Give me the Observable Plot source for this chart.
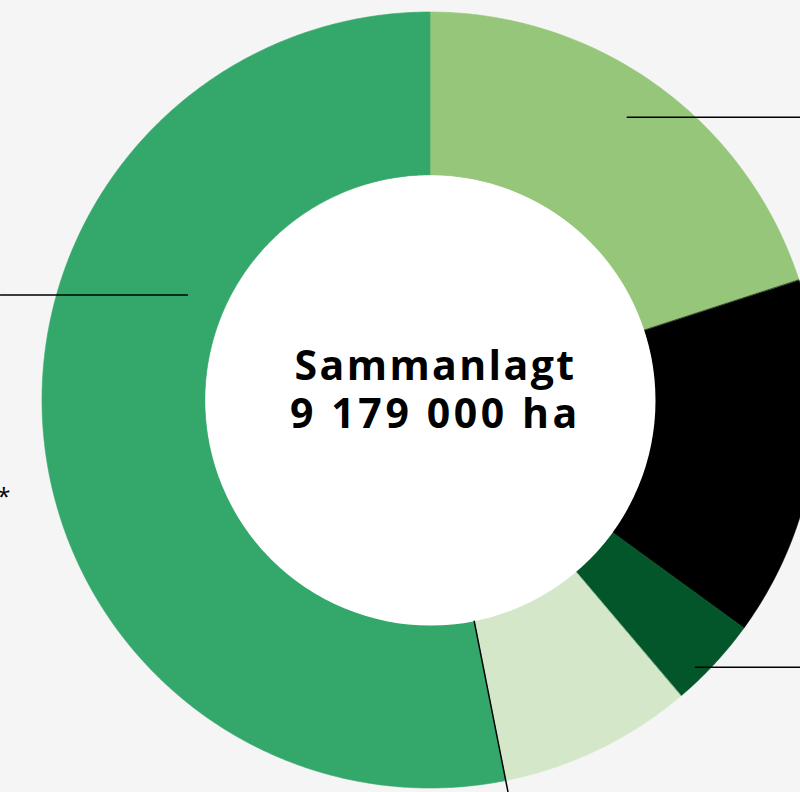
<!DOCTYPE html>
<html><head><meta charset="utf-8">
<script src="https://cdn.jsdelivr.net/npm/d3@7"></script>
<script src="https://cdn.jsdelivr.net/npm/@observablehq/plot@0.6"></script>
<style>
html,body{margin:0;padding:0;background:#f5f5f5;}
#chart svg{display:block;}
#chart .center-label tspan:nth-child(1){letter-spacing:2.4px;}
#chart .center-label tspan:nth-child(2){letter-spacing:3.6px;}
</style></head><body><div id="chart"></div>
<script>
// ---- data ----
const categories = ["Ekonomiskogar", "Övrig mark", "Vattenområden", "Friluftsområden", "Skyddsområden"];
const values = [1836000, 1377000, 349000, 742000, 4875000];
const colors = ["#95c67a", "#000000", "#03562a", "#d4e8c9", "#34a86b"];
const centerLines = ["Sammanlagt", "9 179 000 ha"];
const footnoteMark = ["*"];

// ---- geometry (layout) ----
const R_OUT = 388, R_IN = 225;
const X0 = -430, X1 = 370;   // x extent of the view in chart units
const total = d3.sum(values);
let acc = 0;
const slices = categories.map((c, i) => {
  const a0 = acc / total * 2 * Math.PI; acc += values[i];
  return {c, a0, a1: acc / total * 2 * Math.PI, color: colors[i]};
});
const pts = slices.flatMap(s => {
  const n = Math.max(2, Math.ceil((s.a1 - s.a0) / (Math.PI / 360)));
  return d3.range(n + 1).map(k => {
    const a = s.a0 + (s.a1 - s.a0) * k / n;
    return {c: s.c, color: s.color,
      x1: R_IN * Math.sin(a), y1: R_IN * Math.cos(a),
      x2: R_OUT * Math.sin(a), y2: R_OUT * Math.cos(a)};
  });
});
const polar = (s, t, r) => { const a = s.a0 + (s.a1 - s.a0) * t; return [r * Math.sin(a), r * Math.cos(a)]; };

// leader lines (horizontal) from a point inside a slice to the view edge
const leaderSpec = [
  {slice: 0, t: 0.483, r: 345, edge: X1},
  {slice: 4, t: 0.652, r: 265, edge: X0},
  {slice: 2, t: 0.67, r: 376, edge: X1}
];
const leaders = leaderSpec.flatMap((L, i) => {
  const [x, y] = polar(slices[L.slice], L.t, L.r);
  return [{id: i, x, y}, {id: i, x: L.edge, y}];
});
// radial leader along end of slice 3
const radial = [R_IN, 402].map(r => { const [x, y] = polar(slices[3], 1, r); return {id: "r", x, y}; });

const chart = Plot.plot({
  width: 800, height: 792,
  marginTop: 0, marginRight: 0, marginBottom: 0, marginLeft: 0,
  x: {domain: [X0, X1], axis: null},
  y: {domain: [-392, 400], axis: null},
  color: {type: "identity"},
  style: {background: "#f5f5f5", overflow: "visible"},
  marks: [
    Plot.area(pts, {x1: "x1", y1: "y1", x2: "x2", y2: "y2", z: "c", fill: "color", stroke: "color", strokeWidth: 0.6}),
    Plot.dot([{x: 0, y: 0}], {x: "x", y: "y", r: R_IN, fill: "white", stroke: "none"}),
    Plot.line(leaders, {x: "x", y: "y", z: "id", stroke: "black", strokeWidth: 1.5}),
    Plot.line(radial, {x: "x", y: "y", stroke: "black", strokeWidth: 1.5}),
    Plot.text([centerLines.join("\n")], {x: 0, y: 0, text: d => d, dx: 5, dy: -12,
      fontSize: 41, fontWeight: 700, fontFamily: "'Open Sans', sans-serif", fill: "black",
      lineHeight: 1.17, textAnchor: "middle", lineAnchor: "middle", className: "center-label"}),
    Plot.text(footnoteMark, {x: X0 + 10, y: -97, text: d => d, textAnchor: "end",
      fontSize: 24, fontFamily: "'Open Sans', sans-serif", fill: "black"})
  ]
});
document.getElementById("chart").appendChild(chart);
</script>
</body></html>
